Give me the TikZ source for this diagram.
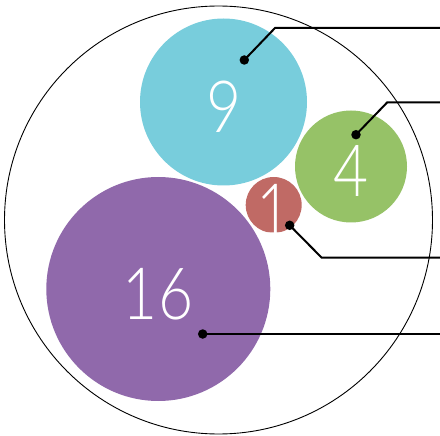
\documentclass[tikz,border=0pt]{standalone}
\usepackage{fontspec}
\setmainfont{Lato Light}[FakeStretch=0.84]
\definecolor{cyanc}{HTML}{78CDDC}
\definecolor{greenc}{HTML}{96C267}
\definecolor{redc}{HTML}{C06A65}
\definecolor{purplec}{HTML}{9069AB}
\begin{document}
\begin{tikzpicture}[x=1pt,y=-1pt,
  bubble/.style={circle,inner sep=0pt,draw=none},
  num/.style={text=white,font=\fontsize{72}{72}\selectfont,inner sep=0pt,anchor=center},
  leader/.style={line width=2pt,black},
  dot/.style={circle,fill=black,inner sep=0pt,minimum size=9.5pt}]
\useasboundingbox (0,0) rectangle (440,436);
\node[bubble,draw=black,line width=0.9pt,minimum size=428pt] (outer) at (218.5,220) {};
\node[bubble,fill=cyanc,minimum size=167pt] (c9) at (223.5,102) {};
\node[bubble,fill=greenc,minimum size=112pt] (c4) at (351,166.5) {};
\node[bubble,fill=redc,minimum size=56pt] (c1) at (273.7,205) {};
\node[bubble,fill=purplec,minimum size=224pt] (c16) at (158.3,289) {};
\node[num] (t9) at (224,107) {9};
\node[num] (t4) at (351,171) {4};
\node[num] (t1) at (274,210) {1};
\node[num] (t16) at (158,294) {16};
\node[dot] (d9) at (244.3,60) {};
\node[dot] (d4) at (356,134.7) {};
\node[dot] (d1) at (289.7,225.3) {};
\node[dot] (d16) at (202.7,334) {};
\coordinate (e9) at (440,28);
\coordinate (e4) at (440,102.3);
\coordinate (e1) at (440,257.7);
\coordinate (e16) at (440,334);
\draw[leader] (d9.center) -- (275,28) -- (e9);
\draw[leader] (d4.center) -- (387.3,102.3) -- (e4);
\draw[leader] (d1.center) -- (321.7,257.7) -- (e1);
\draw[leader] (d16.center) -- (e16);
\end{tikzpicture}
\end{document}
